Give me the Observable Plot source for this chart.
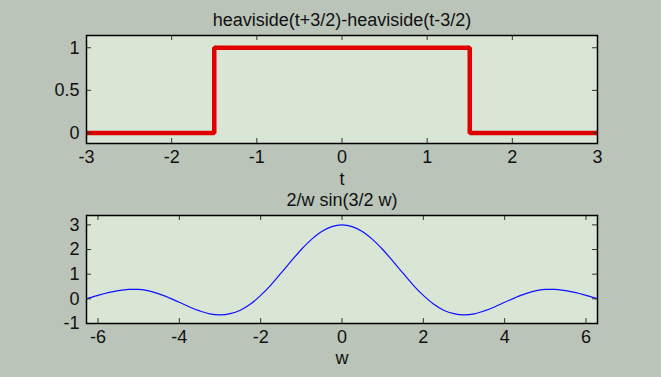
<!DOCTYPE html>
<html>
<head>
<meta charset="utf-8">
<script src="https://cdn.jsdelivr.net/npm/d3@7"></script>
<script src="https://cdn.jsdelivr.net/npm/@observablehq/plot@0.6"></script>
<style>
  html, body { margin: 0; padding: 0; background: #bac4b9; }
  #chart { width: 661px; height: 377px; background: #bac4b9; overflow: hidden; }
  #chart svg { display: block; }
</style>
</head>
<body>
<div id="chart"></div>
<script>
// ---- data ----
const stepT = [-3, -1.5, -1.5, 1.5, 1.5, 3];
const stepY = [0, 0, 1, 1, 0, 0];

const sincW = [-6.28, -6.25, -6, -5.75, -5.5, -5.25, -5, -4.75, -4.5, -4.25, -4, -3.75, -3.5, -3.25, -3,
  -2.75, -2.5, -2.25, -2, -1.75, -1.5, -1.25, -1, -0.75, -0.5, -0.25, 0,
  0.25, 0.5, 0.75, 1, 1.25, 1.5, 1.75, 2, 2.25, 2.5, 2.75, 3, 3.25, 3.5, 3.75, 4,
  4.25, 4.5, 4.75, 5, 5.25, 5.5, 5.75, 6, 6.25, 6.28];
const sincY = [0, 0.02, 0.14, 0.25, 0.33, 0.38, 0.38, 0.32, 0.2, 0.04, -0.14, -0.33, -0.49, -0.61, -0.65,
  -0.6, -0.46, -0.21, 0.14, 0.56, 1.04, 1.53, 2.0, 2.41, 2.73, 2.93, 3,
  2.93, 2.73, 2.41, 2.0, 1.53, 1.04, 0.56, 0.14, -0.21, -0.46, -0.6, -0.65, -0.61, -0.49, -0.33, -0.14,
  0.04, 0.2, 0.32, 0.38, 0.38, 0.33, 0.25, 0.14, 0.02, 0];

const tTicks = [-3, -2, -1, 0, 1, 2, 3];
const yTicksTop = [0, 0.5, 1];
const wTicks = [-6, -4, -2, 0, 2, 4, 6];
const yTicksBottom = [-1, 0, 1, 2, 3];

const title1 = "heaviside(t+3/2)-heaviside(t-3/2)";
const xLabel1 = "t";
const title2 = "2/w sin(3/2 w)";
const xLabel2 = "w";

// ---- drawing ----
const W = 661, ML = 86, MR = 64;
const innerW = W - ML - MR;
const font = "'Liberation Sans', Arial, Helvetica, sans-serif";
const plotBg = "#d9e6d6";
const tickLen = 5;
const fmt = d => String(d); // plain hyphen-minus, no trailing zeros

function panel({height, mt, mb, xDomain, yDomain, xTicks, yTicks, line, title, xlabel, titleDy, labelDy}) {
  const innerH = height - mt - mb;
  return Plot.plot({
    width: W, height,
    marginLeft: ML, marginRight: MR, marginTop: mt, marginBottom: mb,
    style: {background: "transparent", fontFamily: font, fontSize: "18px", color: "#111", overflow: "visible"},
    x: {domain: xDomain, label: null},
    y: {domain: yDomain, label: null},
    marks: [
      Plot.frame({fill: plotBg, stroke: "none"}),
      line,
      // inward ticks on all four sides
      Plot.tickX(xTicks, {x: d => d, insetTop: innerH - tickLen, stroke: "#333", strokeWidth: 1}),
      Plot.tickX(xTicks, {x: d => d, insetBottom: innerH - tickLen, stroke: "#333", strokeWidth: 1}),
      Plot.tickY(yTicks, {y: d => d, insetRight: innerW - tickLen, stroke: "#333", strokeWidth: 1}),
      Plot.tickY(yTicks, {y: d => d, insetLeft: innerW - tickLen, stroke: "#333", strokeWidth: 1}),
      Plot.frame({stroke: "#000", strokeWidth: 1.5}),
      Plot.axisX(xTicks, {anchor: "bottom", tickSize: 0, tickPadding: 7, label: null, fontSize: 18, tickFormat: fmt}),
      Plot.axisY(yTicks, {anchor: "left", tickSize: 0, tickPadding: 7, label: null, fontSize: 18, tickFormat: fmt}),
      Plot.text([title], {text: d => d, frameAnchor: "top", dy: titleDy, lineAnchor: "bottom", fontSize: 18, fill: "#111", letterSpacing: 0.3}),
      Plot.text([xlabel], {text: d => d, frameAnchor: "bottom", dy: labelDy, lineAnchor: "bottom", fontSize: 18, fill: "#111"})
    ]
  });
}

const stepData = stepT.map((t, i) => ({t, y: stepY[i]}));
const sincData = sincW.map((w, i) => ({w, y: sincY[i]}));

const p1 = panel({
  height: 188, mt: 35, mb: 45,
  xDomain: [-3, 3], yDomain: [-0.124, 1.144],
  xTicks: tTicks, yTicks: yTicksTop,
  line: Plot.line(stepData, {x: "t", y: "y", stroke: "#e00000", strokeWidth: 4.5, strokeLinejoin: "miter", strokeLinecap: "butt"}),
  title: title1, xlabel: xLabel1, titleDy: -9.5, labelDy: 41
});

const p2 = panel({
  height: 189, mt: 27, mb: 54,
  xDomain: [-2 * Math.PI, 2 * Math.PI], yDomain: [-1, 3.38],
  xTicks: wTicks, yTicks: yTicksBottom,
  line: Plot.line(sincData, {x: "w", y: "y", stroke: "#1010ff", strokeWidth: 1.2, curve: "catmull-rom", clip: true}),
  title: title2, xlabel: xLabel2, titleDy: -9.5, labelDy: 40
});

const root = document.getElementById("chart");
root.appendChild(p1);
root.appendChild(p2);
</script>
</body>
</html>
